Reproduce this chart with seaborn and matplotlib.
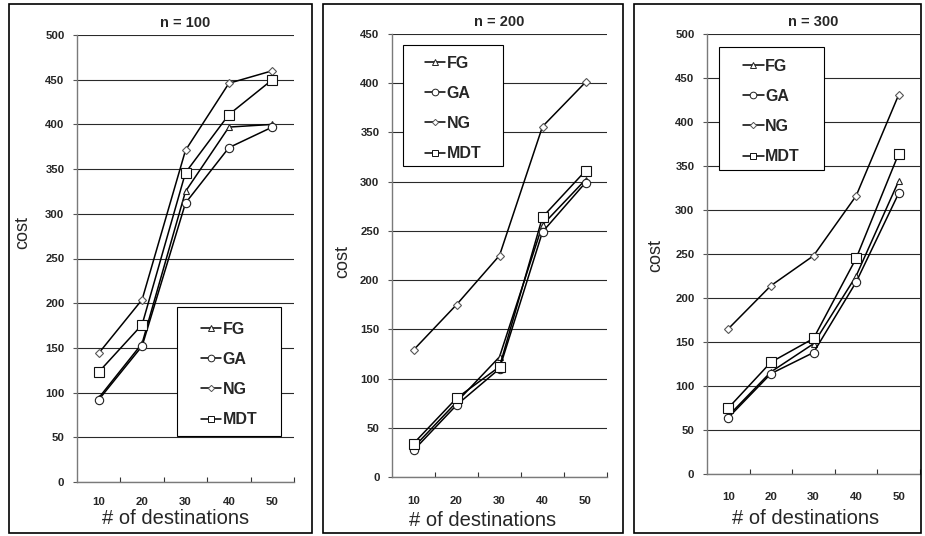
import matplotlib
matplotlib.use("Agg")
import matplotlib.pyplot as plt
from matplotlib.patches import Rectangle
import seaborn as sns
import pandas as pd

# ---------------- data ----------------
destinations = [10, 20, 30, 40, 50]
methods = ["FG", "GA", "NG", "MDT"]

n100_fg = [94, 155, 325, 397, 400]
n100_ga = [92, 152, 312, 374, 397]
n100_ng = [144, 204, 371, 446, 460]
n100_mdt = [123, 176, 346, 411, 450]

n200_fg = [30, 76, 122, 256, 302]
n200_ga = [27, 73, 110, 249, 299]
n200_ng = [129, 175, 225, 356, 401]
n200_mdt = [34, 80, 112, 264, 311]

n300_fg = [66, 116, 148, 225, 333]
n300_ga = [64, 114, 138, 218, 319]
n300_ng = [165, 214, 248, 316, 431]
n300_mdt = [75, 127, 154, 245, 364]

panel_titles = ["n = 100", "n = 200", "n = 300"]
panel_series = [
    [n100_fg, n100_ga, n100_ng, n100_mdt],
    [n200_fg, n200_ga, n200_ng, n200_mdt],
    [n300_fg, n300_ga, n300_ng, n300_mdt],
]
panel_ymax = [500, 450, 500]

# ---------------- style ----------------
sns.set_theme(style="white")
plt.rcParams["font.family"] = ["Liberation Sans", "DejaVu Sans"]

W, H = 925, 536
fig = plt.figure(figsize=(W / 100, H / 100), dpi=100)


def fx(px):
    return px / W


def fy(py):
    return 1 - py / H


# layout in pixels
axes_px = [(77, 294, 35, 482), (392, 607, 34, 477), (707, 920, 34, 474)]
frames_px = [(9, 312, 4, 533), (323, 623, 4, 533), (634, 921, 4, 533)]
legend_px = [(177, 281, 307, 436), (403, 503, 45, 166), (719, 824, 47, 170)]
xlabel_px = [(176, 518), (483, 521), (806, 518)]
ylabel_px = [(23, 233), (343, 262), (656, 256)]
xtick_pad = [11, 13.5, 13]

marker_map = {"FG": "^", "GA": "o", "NG": "D", "MDT": "s"}
marker_size = {"FG": 5.0, "GA": 6.0, "NG": 3.9, "MDT": 6.5}
legend_marker_size = {"FG": 4.0, "GA": 4.8, "NG": 3.2, "MDT": 5.0}
marker_edge = {"FG": "#222222", "GA": "#222222", "NG": "#555555", "MDT": "#111111"}
palette = {m: "black" for m in methods}

for i in range(3):
    l, r, t, b = axes_px[i]
    ax = fig.add_axes([fx(l), fy(b), (r - l) / W, (b - t) / H])

    rows = []
    for m, vals in zip(methods, panel_series[i]):
        for xv, yv in zip(destinations, vals):
            rows.append({"dest": xv, "cost": yv, "method": m})
    df = pd.DataFrame(rows)

    sns.lineplot(data=df, x="dest", y="cost", hue="method", style="method",
                 hue_order=methods, style_order=methods, palette=palette,
                 markers=marker_map, dashes=False, linewidth=1.1, ax=ax,
                 legend=True, zorder=3)

    for line, m in zip(ax.lines, methods):
        line.set_markerfacecolor("white")
        line.set_markeredgecolor(marker_edge[m])
        line.set_markeredgewidth(0.8)
        line.set_markersize(marker_size[m])

    handles, labels = ax.get_legend_handles_labels()
    for h, lab in zip(handles, labels):
        h.set_color("black")
        h.set_markerfacecolor("white")
        h.set_markeredgecolor(marker_edge.get(lab, "black"))
        h.set_markeredgewidth(0.7)
        h.set_linewidth(1.1)
        h.set_markersize(legend_marker_size.get(lab, 5))
    if ax.get_legend() is not None:
        ax.get_legend().remove()

    # legend box
    ll, lr, lt, lb = legend_px[i]
    ax.add_patch(Rectangle((fx(ll), fy(lb)), (lr - ll) / W, (lb - lt) / H,
                           transform=fig.transFigure, facecolor="white",
                           edgecolor="black", linewidth=0.8, zorder=4,
                           clip_on=False))
    leg = ax.legend(handles, labels, loc="center",
                    bbox_to_anchor=(fx(ll), fy(lb + 3), (lr - ll) / W, (lb - lt) / H),
                    bbox_transform=fig.transFigure, frameon=False,
                    prop={"weight": "bold", "size": 11.5},
                    handlelength=1.3, handletextpad=0.1, labelspacing=0.95,
                    borderpad=0.0, numpoints=1)
    leg.set_zorder(5)

    # axes
    ymax = panel_ymax[i]
    ax.set_xlim(5, 55)
    ax.set_ylim(0, ymax)
    ax.set_xticks(destinations)
    ax.set_xticklabels([str(d) for d in destinations])
    ax.set_xticks([15, 25, 35, 45, 55], minor=True)
    ax.set_yticks(list(range(0, ymax + 1, 50)))
    ax.tick_params(axis="x", which="major", length=0, pad=xtick_pad[i],
                   labelsize=8.2)
    ax.tick_params(axis="x", which="minor", direction="in", length=3.5,
                   width=0.8, color="#333333", bottom=True)
    ax.tick_params(axis="y", which="major", direction="out", length=3,
                   width=0.8, color="#555555", pad=6, labelsize=8.2, left=True)
    for lab in ax.get_xticklabels() + ax.get_yticklabels():
        lab.set_fontweight("bold")

    ax.grid(axis="y", color="#2a2a2a", linewidth=0.8, zorder=1)
    ax.grid(axis="x", visible=False)
    ax.set_axisbelow(True)
    for s in ["top", "right"]:
        ax.spines[s].set_visible(False)
    for s in ["left", "bottom"]:
        ax.spines[s].set_color("#7a7a7a")
        ax.spines[s].set_linewidth(1.0)

    ax.set_title(panel_titles[i], fontsize=10.5, fontweight="bold", pad=6)

    # axis labels
    ax.set_xlabel("# of destinations", fontsize=14.5, va="center")
    xlx, xly = xlabel_px[i]
    ax.xaxis.set_label_coords((xlx - l) / (r - l), (b - xly) / (b - t))
    ax.set_ylabel("cost", fontsize=13, va="center")
    ylx, yly = ylabel_px[i]
    ax.yaxis.set_label_coords((ylx - l) / (r - l), (b - yly) / (b - t))

    # panel frame
    fl, fr, ft, fb = frames_px[i]
    fig.add_artist(Rectangle((fx(fl), fy(fb)), (fr - fl) / W, (fb - ft) / H,
                             transform=fig.transFigure, fill=False,
                             edgecolor="black", linewidth=1.2))

fig.savefig("out.png", dpi=100, facecolor="white")
